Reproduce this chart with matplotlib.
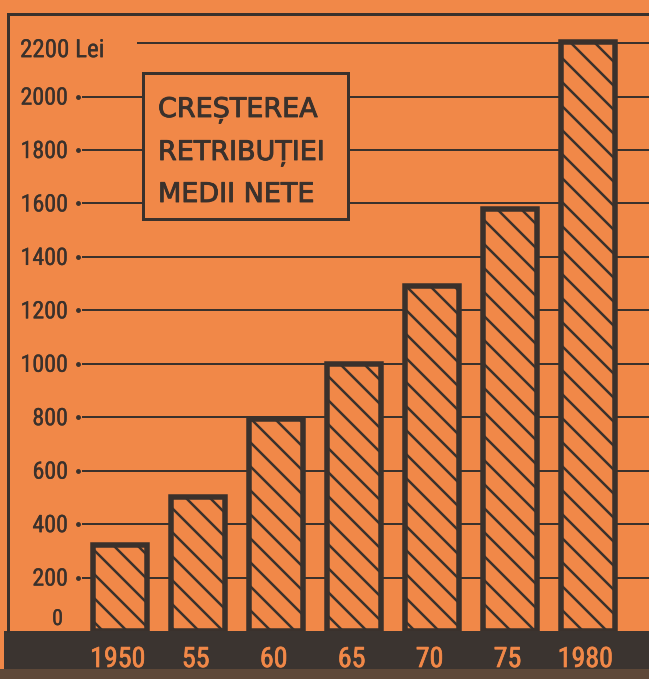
import matplotlib
matplotlib.use('Agg')
import matplotlib.pyplot as plt
import matplotlib.patheffects as pe
from matplotlib.patches import Rectangle

# data
years = ['1950', '55', '60', '65', '70', '75', '1980']
wages = [320, 500, 795, 1000, 1290, 1580, 2205]
ticks = [200, 400, 600, 800, 1000, 1200, 1400, 1600, 1800, 2000]
title_lines = ['CREȘTEREA', 'RETRIBUȚIEI', 'MEDII NETE']

orange = '#F18848'
dark = '#3A312C'
num_font = ['Roboto Condensed', 'Liberation Sans', 'DejaVu Sans']

plt.rcParams['hatch.linewidth'] = 2.5
plt.rcParams['hatch.color'] = dark

# work at 72 dpi so 1 pt == 1 px
W, H = 649, 679
fig = plt.figure(figsize=(W / 72, H / 72), dpi=72, facecolor=orange)

def fx(x):
    return x / W

def fy(y):
    return 1 - y / H

left, top, base = 7.5, 14, 631
ax = fig.add_axes([fx(left), fy(base), 1 - fx(left), (base - top) / H])
ax.set_facecolor(orange)
ax.set_xlim(-1.446, 6.786)
ax.set_ylim(0, 2309)

def axfx(x):
    return (x - left) / (W - left)

for s in ['right', 'bottom']:
    ax.spines[s].set_visible(False)
for s in ['left', 'top']:
    ax.spines[s].set_linewidth(3)
    ax.spines[s].set_color(dark)
ax.set_xticks([])
ax.set_yticks([])

thick = [pe.withStroke(linewidth=0.9, foreground=dark)]
num_fx = [pe.withStroke(linewidth=0.3, foreground=dark)]

# horizontal lines
for t in ticks:
    ax.axhline(t, xmin=axfx(83), xmax=1, color=dark, lw=2, zorder=1)
ax.axhline(2200, xmin=axfx(138), xmax=1, color=dark, lw=2, zorder=1)

# y labels with the little dot
ytr = ax.get_yaxis_transform()
for t in ticks:
    ax.annotate(str(t), xy=(axfx(68), t), xycoords=ytr, xytext=(0, -8),
                textcoords='offset points', ha='right', va='baseline',
                fontsize=24, color=dark, family=num_font, path_effects=num_fx)
ax.plot([axfx(78)] * len(ticks), ticks, 'o', ms=3.8, color=dark,
        transform=ytr, clip_on=False, zorder=2)
ax.annotate('0', xy=(axfx(63), 0), xycoords=ytr, xytext=(0, 6),
            textcoords='offset points', ha='right', va='baseline',
            fontsize=22, color=dark, family=num_font, path_effects=num_fx)
ax.annotate('2200 Lei', xy=(axfx(20), 2200), xycoords=ytr, xytext=(0, -14),
            textcoords='offset points', ha='left', va='baseline',
            fontsize=25, color=dark, family=num_font, path_effects=num_fx)

# bars
x = range(len(years))
ax.bar(x, wages, width=0.69, color=orange, edgecolor=dark, linewidth=5.5,
       hatch='\\', zorder=4)

# year labels on the dark band
xtr = ax.get_xaxis_transform()
for i, yr in enumerate(years):
    ax.text(i - 0.03, -(667 - base) / (base - top), yr, transform=xtr,
            ha='center', va='baseline', fontsize=28, color=orange,
            family=num_font,
            path_effects=[pe.withStroke(linewidth=0.7, foreground=orange)])

# title box
ax.add_patch(Rectangle((fx(143), fy(219)), (348 - 143) / W, (219 - 73) / H,
                       transform=fig.transFigure, facecolor=orange,
                       edgecolor=dark, lw=3, zorder=5, clip_on=False))
for line, yb in zip(title_lines, [117, 160, 202]):
    ax.text(fx(158), fy(yb), line, transform=fig.transFigure, ha='left',
            va='baseline', fontsize=27, color=dark, zorder=6,
            path_effects=thick)

# dark strip at the bottom
fig.patches.append(Rectangle((fx(4), 0), 1, fy(base), transform=fig.transFigure,
                             facecolor='#3B3430', edgecolor='none', zorder=-1))
fig.patches.append(Rectangle((0, 0), 1, fy(669), transform=fig.transFigure,
                             facecolor='#5E4838', edgecolor='none', zorder=-1))

fig.savefig('out.png', dpi=72, facecolor=orange)
